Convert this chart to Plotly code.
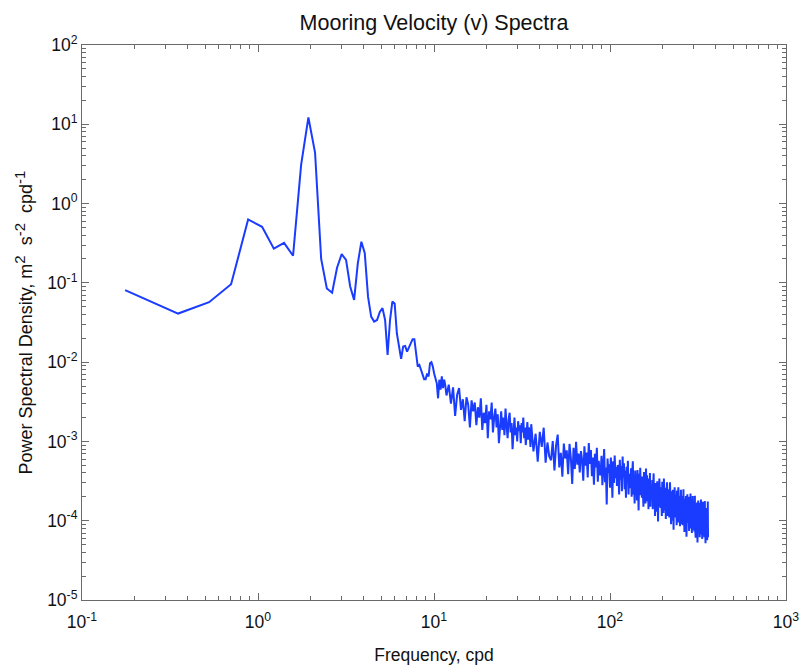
import numpy as np
import plotly.graph_objects as go

# ---------------- data ----------------
df = 360.0 / 2048.0  # frequency resolution, cpd

# low-frequency part, every spectral bin (k = 1..67), PSD in m^2 s^-2 cpd^-1
psd_a = [0.081, 0.041, 0.057, 0.096, 0.63, 0.51, 0.27, 0.32, 0.22, 3.07,
         12.2, 4.4, 0.20, 0.085, 0.075, 0.155, 0.23, 0.195, 0.09, 0.061,
         0.177, 0.33, 0.236, 0.067, 0.0375, 0.0325, 0.034, 0.043, 0.048, 0.034,
         0.0123, 0.034, 0.058, 0.055, 0.023, 0.0157, 0.011, 0.0157, 0.016, 0.0136,
         0.0157, 0.018, 0.0195, 0.0195, 0.013, 0.0088, 0.0092, 0.0079, 0.0066, 0.0061,
         0.0061, 0.0072, 0.0066, 0.0097, 0.010, 0.0088, 0.0072, 0.006, 0.0054, 0.0035,
         0.006, 0.0045, 0.0066, 0.0047, 0.006, 0.005, 0.0038]

# mid band (every 2nd bin from k = 69), PSD in 1e-6 units
psd_b_micro = [5200, 3000, 4800, 2100, 3900, 4700, 2500, 3400, 1800, 3600,
               2900, 1500, 3300, 2400, 3100, 1600, 2700, 2000, 3500, 1400,
               2300, 1700, 2900, 1100, 2400, 1900, 3100, 1300, 2000, 2600,
               1500, 2200, 950, 1900, 2400, 1400, 2000, 1200, 2600, 1600,
               1100, 1900, 2300, 1300, 1700, 800, 1600, 2000, 1200, 1500,
               1000, 1800, 1350, 1600, 950, 1700, 1300, 2000, 1100, 1500,
               900, 1400, 1750, 1050, 1500, 1200, 850]

# high band (every 6th bin from k = 203), PSD in 1e-6 units
psd_c_micro = [1650, 750, 1250, 555, 1320, 855, 1490, 540, 970, 645,
               580, 1010, 430, 900, 1220, 470, 720, 360, 940, 610,
               770, 385, 930, 610, 290, 830, 450, 990, 510, 705,
               405, 755, 580, 320, 870, 495, 725, 350, 955, 520,
               780, 365, 625, 285, 700, 470, 830, 310, 570, 390,
               375, 660, 280, 590, 800, 305, 470, 160, 610, 400,
               515, 260, 625, 410, 195, 560, 300, 665, 345, 475,
               275, 505, 390, 215, 585, 330, 490, 235, 645, 350,
               530, 250, 425, 195, 480, 320, 570, 215, 390, 265,
               265, 460, 200, 410, 560, 215, 330, 165, 430, 280,
               360, 180, 435, 285, 135, 390, 210, 465, 240, 330,
               195, 360, 275, 150, 410, 235, 345, 165, 455, 250,
               375, 175, 300, 140, 340, 225, 400, 150, 275, 190,
               185, 325, 140, 290, 395, 150, 232, 115, 300, 197,
               260, 130, 315, 205, 98, 285, 150, 340, 175, 240,
               145, 265, 205, 115, 310, 175, 255, 125, 340, 185,
               290, 135, 230, 105, 260, 175, 305, 115, 210, 145,
               145, 250, 110, 225, 305, 115, 180, 90, 235, 155,
               205, 100, 245, 160, 77, 220, 120, 265, 135, 185,
               110, 210, 160, 88, 240, 135, 200, 95, 265, 145,
               230, 105, 180, 85, 205, 135, 245, 90, 165, 115,
               115, 205, 88, 180, 250, 95, 146, 72, 190, 125,
               170, 84, 205, 133, 63, 180, 98, 215, 112, 155,
               94, 175, 134, 74, 200, 115, 168, 80, 220, 120,
               190, 90, 155, 70, 172, 115, 205, 77, 140, 96,
               98, 170, 73, 152, 207, 80, 122, 61, 160, 104,
               140, 70, 170, 111, 53, 152, 82, 180, 94, 129,
               78, 146, 112, 62, 168, 95, 140, 67, 185, 100,
               162, 76, 130, 59, 146, 97, 173, 65, 119, 81,
               83, 146, 62, 130, 177, 68, 104, 52, 135, 88,
               120, 60, 145, 95, 57, 130, 70, 175, 62]

major_x = [0.1, 1, 10, 100, 1000]
major_x_text = ["10<sup>-1</sup>", "10<sup>0</sup>", "10<sup>1</sup>",
                "10<sup>2</sup>", "10<sup>3</sup>"]
major_y = [1e-5, 1e-4, 1e-3, 1e-2, 1e-1, 1, 10, 100]
major_y_text = ["10<sup>-5</sup>", "10<sup>-4</sup>", "10<sup>-3</sup>",
                "10<sup>-2</sup>", "10<sup>-1</sup>", "10<sup>0</sup>",
                "10<sup>1</sup>", "10<sup>2</sup>"]
minor_digits = [2, 3, 4, 5, 6, 7, 8, 9]

# ---------------- assemble ----------------
freq_a = df * np.arange(1, len(psd_a) + 1)
freq_b = df * (69 + 2 * np.arange(len(psd_b_micro)))
freq_c = df * (203 + 6 * np.arange(len(psd_c_micro)))
freq = np.concatenate([freq_a, freq_b, freq_c])
psd = np.concatenate([np.array(psd_a),
                      np.array(psd_b_micro) * 1e-6,
                      np.array(psd_c_micro) * 1e-6])

minor_x = [d * m for m in major_x[:-1] for d in minor_digits]
minor_y = [d * m for m in major_y[:-1] for d in minor_digits]

FONT = "Liberation Sans, Arial, sans-serif"
AXCOL = "#6a6a6a"
NB = "\u00a0"


def sup(t):
    return "<sup><span style='font-size:15px'>" + t + "</span></sup>"


ytitle = ("Power Spectral Density, m" + sup("2") + NB + " s" + sup("-2")
          + NB + " cpd" + sup("-1"))

fig = go.Figure()
fig.add_trace(go.Scatter(x=freq, y=psd, mode="lines",
                         line=dict(color="#1a3cff", width=2),
                         showlegend=False, hoverinfo="skip"))

axis_common = dict(
    type="log", showgrid=False, zeroline=False, automargin=False,
    showline=True, linecolor=AXCOL, linewidth=1, mirror="ticks",
    ticks="inside", ticklen=7, tickcolor=AXCOL, tickwidth=1,
    tickmode="array",
    tickfont=dict(family=FONT, size=17.5, color="#111"),
)

fig.update_layout(
    width=801, height=668,
    margin=dict(l=82, r=15, t=45, b=68),
    paper_bgcolor="white", plot_bgcolor="white",
    title=dict(text="Mooring Velocity (v) Spectra",
               font=dict(family=FONT, size=21.5, color="#111"),
               x=0.5, xref="paper", xanchor="center",
               y=1 - 22 / 668, yref="container", yanchor="middle"),
    xaxis=dict(axis_common, range=[-1, 3], tickvals=major_x, ticktext=major_x_text,
               ticklabelstandoff=6,
               minor=dict(tickmode="array", tickvals=minor_x, ticks="inside",
                          ticklen=4, tickcolor=AXCOL, showgrid=False),
               title=dict(text="Frequency, cpd",
                          font=dict(family=FONT, size=17.5, color="#111"),
                          standoff=17)),
    yaxis=dict(axis_common, range=[-5, 2], tickvals=major_y, ticktext=major_y_text,
               minor=dict(tickmode="array", tickvals=minor_y, ticks="inside",
                          ticklen=4, tickcolor=AXCOL, showgrid=False),
               title=dict(text=ytitle,
                          font=dict(family=FONT, size=18, color="#111"),
                          standoff=9)),
)

fig.write_html("out.html")
